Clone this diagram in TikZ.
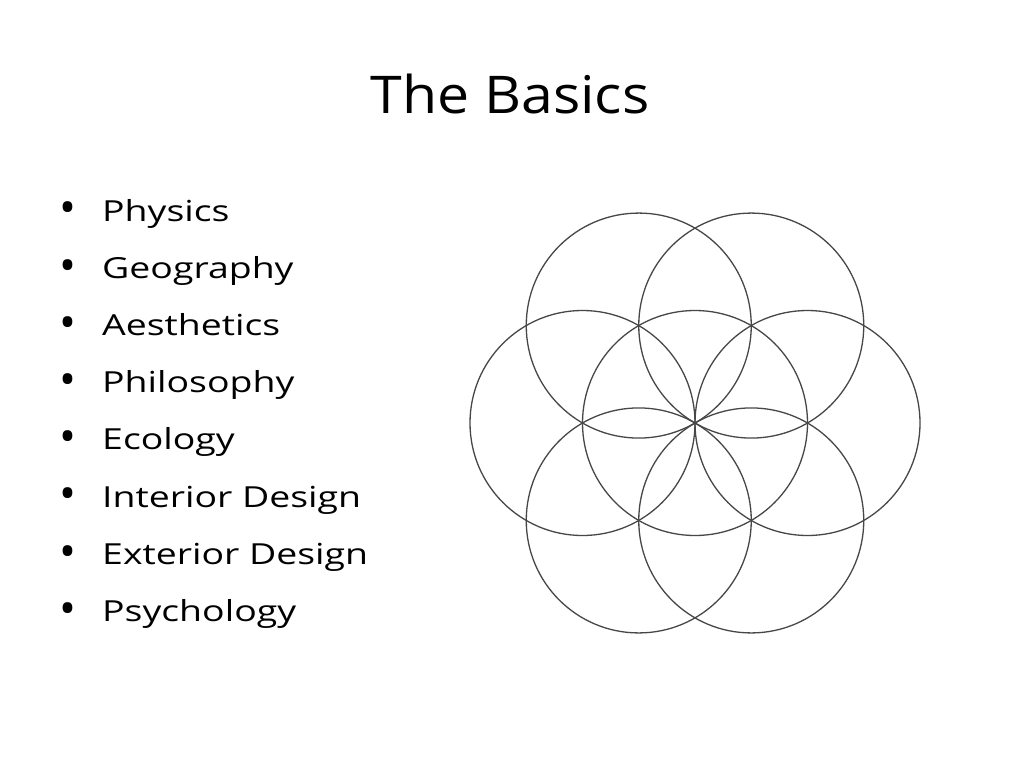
\documentclass[tikz,border=0pt]{standalone}
\usepackage{fontspec}
\setmainfont{Open Sans}
\usetikzlibrary{positioning}

\begin{document}
\begin{tikzpicture}[x=1pt,y=-1pt,
    titletext/.style={font=\fontsize{52}{60}\selectfont\addfontfeatures{FakeStretch=1.1},anchor=base,inner sep=0pt},
    itemtext/.style={font=\fontsize{29}{34}\selectfont\addfontfeatures{FakeStretch=1.29},anchor=base west,inner sep=0pt},
    itemdot/.style={font=\fontsize{45}{50}\selectfont,anchor=center,inner sep=0pt},
    ring/.style={draw=black!72,line width=1.3pt}]

    \useasboundingbox[fill=white] (0,0) rectangle (1024,768); %slide frame

    \node[titletext] (title) at (510,113) {The Basics};

    \foreach \t [count=\i from 0] in {Physics,Geography,Aesthetics,Philosophy,Ecology,Interior Design,Exterior Design,Psychology} {
      \pgfmathsetmacro\ypoint{221+57.2*\i}
      \node[itemdot] (dot\i) at (68,\ypoint-8) {•};
      \node[itemtext] (item\i) at (102,\ypoint) {\t};
    }

    % seed of life
    \coordinate (seed) at (695,423);
    \draw[ring] (seed) circle[radius=112.5];
    \foreach \a in {0,60,...,300} {
      \draw[ring] (seed) ++(\a:112.5 and -112.5) circle[radius=112.5];
    }
  \end{tikzpicture}
\end{document}
